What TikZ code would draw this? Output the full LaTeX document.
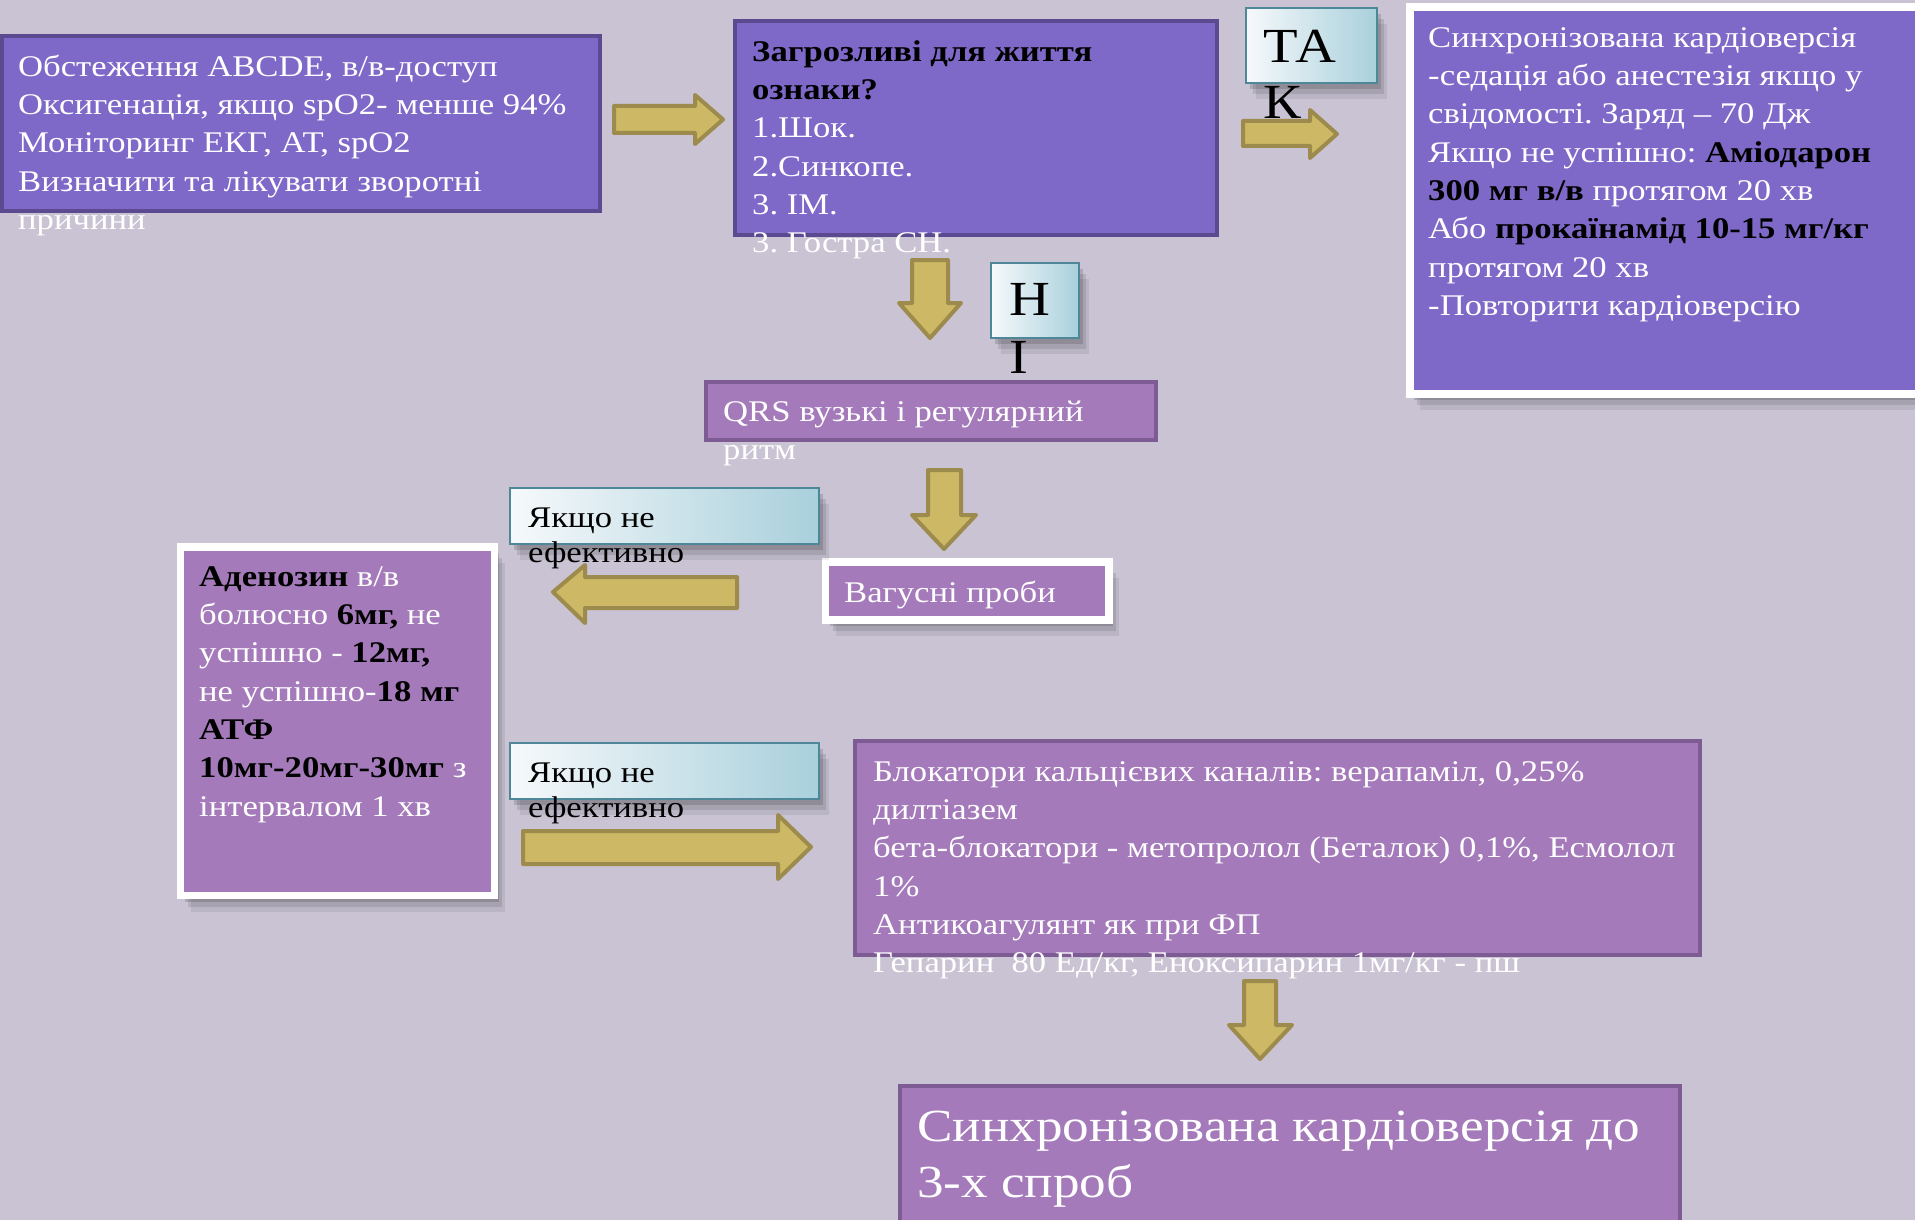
\documentclass[tikz,border=0pt]{standalone}
\usepackage{fontspec}
\setmainfont{Liberation Serif}[FakeStretch=1.155]
\usetikzlibrary{shadows}
\definecolor{bg}{HTML}{C9C3D3}
\definecolor{dkfill}{HTML}{7E69C8}
\definecolor{dkborder}{HTML}{5C4A91}
\definecolor{ltfill}{HTML}{A47ABA}
\definecolor{ltborder}{HTML}{7D5B93}
\definecolor{gold}{HTML}{CDB965}
\definecolor{goldborder}{HTML}{9C8B4C}
\definecolor{lblleft}{HTML}{F6F9FB}
\definecolor{lblright}{HTML}{A9D0DC}
\definecolor{lblborder}{HTML}{4E8797}
\newcommand{\sx}{\rule{0pt}{28pt}}
\newcommand{\sxl}{\rule{0pt}{44pt}}
\newcommand{\bk}[1]{{\color{black}\bfseries #1}}
\frenchspacing
\begin{document}
\begin{tikzpicture}[x=1pt,y=-1pt,
  basebox/.style={anchor=north west, inner sep=0pt, outer sep=0pt},
  softshadow/.style={
    drop shadow={shadow xshift=10pt, shadow yshift=-16pt, opacity=0.07, fill=black},
    drop shadow={shadow xshift=7pt, shadow yshift=-11pt, opacity=0.1, fill=black},
    drop shadow={shadow xshift=4pt, shadow yshift=-6pt, opacity=0.14, fill=black}},
  dkbox/.style={basebox, fill=dkfill, draw=dkborder, line width=4pt},
  ltbox/.style={basebox, fill=ltfill, draw=ltborder, line width=4pt},
  framebox/.style={basebox, draw=white, line width=7.5pt, softshadow},
  lblbox/.style={basebox, left color=lblleft, right color=lblright, draw=lblborder, line width=2pt, softshadow},
  txt/.style={anchor=north west, inner sep=0pt, align=left, text=white, font=\fontsize{30}{38.3}\selectfont},
  btxt/.style={txt, text=black},
  bigtxt/.style={anchor=north west, inner sep=0pt, align=left, text=black, font=\fontsize{49}{56}\selectfont},
  garrow/.style={fill=gold, draw=goldborder, line width=4pt, line join=round}
]
\useasboundingbox (0,0) rectangle (1915,1220);
\fill[bg] (0,0) rectangle (1915,1220);

% boxes
\node[dkbox, minimum width=598pt, minimum height=175pt] (b1) at (2,36) {};
\node[dkbox, minimum width=482pt, minimum height=214pt] (b2) at (735,21) {};
\node[framebox, fill=dkfill, minimum width=530pt, minimum height=387pt] (b3) at (1410,7) {};
\node[lblbox, minimum width=131pt, minimum height=75pt] (tak) at (1246,8) {};
\node[lblbox, minimum width=88pt, minimum height=75pt] (ni) at (991,263) {};
\node[ltbox, minimum width=450pt, minimum height=58pt] (qrs) at (706,382) {};
\node[framebox, fill=ltfill, minimum width=283.5pt, minimum height=58pt] (vag) at (825.5,562) {};
\node[lblbox, minimum width=309pt, minimum height=56pt] (l1) at (510,488) {};
\node[framebox, fill=ltfill, minimum width=314pt, minimum height=348.5pt] (aden) at (180.5,547) {};
\node[lblbox, minimum width=309pt, minimum height=56pt] (l2) at (510,743) {};
\node[ltbox, minimum width=845pt, minimum height=214pt] (blok) at (855,741) {};
\node[ltbox, minimum width=780pt, minimum height=160pt] (fin) at (900,1086) {};

% block arrows
\draw[garrow] (614,106) -- (695,106) -- (695,95) -- (723,119.5) -- (695,144) -- (695,133) -- (614,133) -- cycle;
\draw[garrow] (1243,121) -- (1310,121) -- (1310,110) -- (1337,134) -- (1310,158) -- (1310,146) -- (1243,146) -- cycle;
\draw[garrow] (912,260) -- (948,260) -- (948,303) -- (961,303) -- (930,338) -- (899,303) -- (912,303) -- cycle;
\draw[garrow] (928,470) -- (961,470) -- (961,515) -- (976,515) -- (944,549) -- (912,515) -- (928,515) -- cycle;
\draw[garrow] (737,577) -- (585,577) -- (585,565) -- (553,592) -- (585,623) -- (585,608) -- (737,608) -- cycle;
\draw[garrow] (523,831) -- (778,831) -- (778,815) -- (811,847) -- (778,879) -- (778,864) -- (523,864) -- cycle;
\draw[garrow] (1244,981) -- (1276,981) -- (1276,1025) -- (1292,1025) -- (1260,1059) -- (1229,1025) -- (1244,1025) -- cycle;

% texts
\node[txt] (t1) at (18,48) {\sx Обстеження ABCDE, в/в-доступ\\
Оксигенація, якщо spO2- менше 94\%\\
Моніторинг ЕКГ, АТ, spO2\\
Визначити та лікувати зворотні\\
причини};
\node[txt] (t2) at (752,33) {\sx\bk{Загрозливі для життя}\\
\bk{ознаки?}\\
1.Шок.\\
2.Синкопе.\\
3. ІМ.\\
3. Гостра СН.};
\node[txt] (t3) at (1428,19) {\sx Синхронізована кардіоверсія\\
-седація або анестезія якщо у\\
свідомості. Заряд – 70 Дж\\
Якщо не успішно: \bk{Аміодарон}\\
\bk{300 мг в/в} протягом 20 хв\\
Або \bk{прокаїнамід 10-15 мг/кг}\\
протягом 20 хв\\
-Повторити кардіоверсію};
\node[bigtxt] (ttak) at (1263,18) {\sxl ТА\\К};
\node[bigtxt, font=\fontsize{49}{58}\selectfont] (tni) at (1009,271) {\sxl Н\\І};
\node[txt] (tqrs) at (723,393) {\sx QRS вузькі і регулярний\\ритм};
\node[txt] (tvag) at (844,574) {\sx Вагусні проби};
\node[btxt, font=\fontsize{30}{35.5}\selectfont] (tl1) at (528,499) {\sx Якщо не\\ефективно};
\node[btxt, font=\fontsize{30}{35.5}\selectfont] (tl2) at (528,754) {\sx Якщо не\\ефективно};
\node[txt] (taden) at (199,558) {\sx\bk{Аденозин} в/в\\
болюсно \bk{6мг,} не\\
успішно - \bk{12мг,}\\
не успішно-\bk{18 мг}\\
\bk{АТФ}\\
\bk{10мг-20мг-30мг} з\\
інтервалом 1 хв};
\node[txt] (tblok) at (873,753) {\sx Блокатори кальцієвих каналів: верапаміл, 0,25\%\\
дилтіазем\\
бета-блокатори - метопролол (Беталок) 0,1\%, Есмолол\\
1\%\\
Антикоагулянт як при ФП\\
Гепарин~~80 Ед/кг, Еноксипарин 1мг/кг - пш};
\node[txt, font=\fontsize{46}{56}\selectfont] (tfin) at (917,1097) {\sxl Синхронізована кардіоверсія до\\3-х спроб};
\end{tikzpicture}
\end{document}
